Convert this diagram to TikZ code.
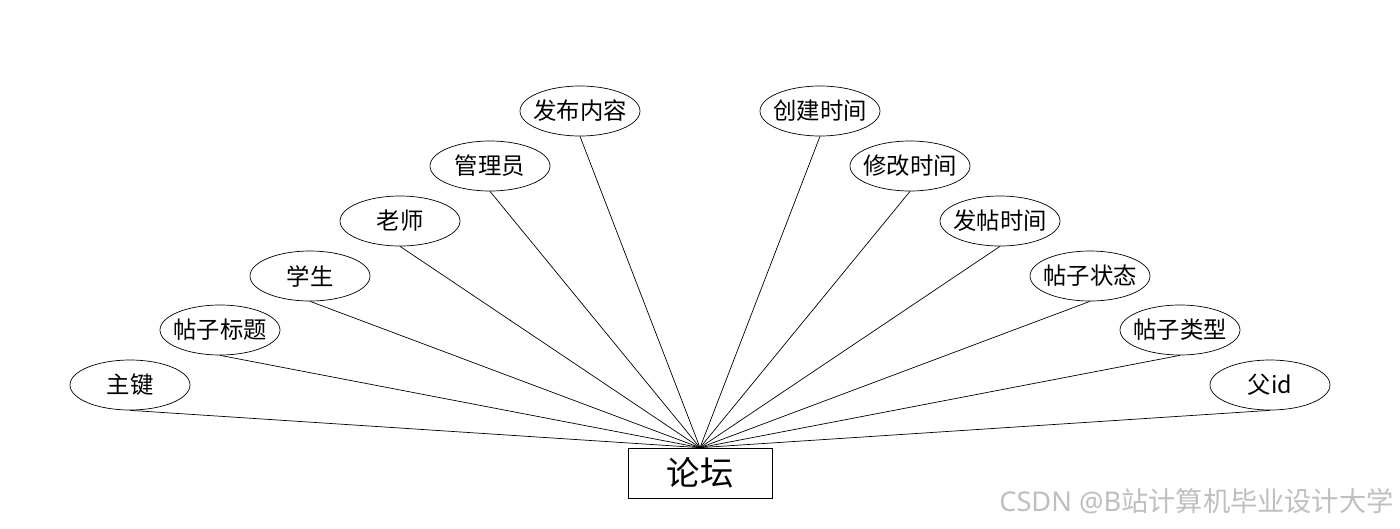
\documentclass[tikz,border=0pt]{standalone}
\usepackage{fontspec}
\newfontfamily\cjk{Noto Sans CJK SC}
\usetikzlibrary{shapes.geometric}

\begin{document}
\begin{tikzpicture}[
  x=0.02cm, y=-0.02cm,
  every node/.style={font=\cjk\fontsize{13.3}{15}\selectfont},
  attr/.style={ellipse, draw, thin, minimum width=2.4cm,
               minimum height=1cm, inner xsep=-3mm, inner ysep=0pt},
  entity/.style={rectangle, draw, thin, minimum width=2.88cm,
                 minimum height=1cm, inner sep=0pt,
                 font=\cjk\fontsize{19}{22}\selectfont},
  link/.style={thin}
]

\useasboundingbox (0,0) rectangle (1400,528);

\node[entity] at (700,473) (forum) {论坛};

% left side
\node[attr] at (130,385)  (key)     {主键};
\node[attr] at (220,330)  (title)   {帖子标题};
\node[attr] at (310,276)  (student) {学生};
\node[attr] at (400,221)  (teacher) {老师};
\node[attr] at (490,166)  (admin)   {管理员};
\node[attr] at (580,111)  (content) {发布内容};

% right side
\node[attr] at (820,111)  (created)  {创建时间};
\node[attr] at (910,166)  (modified) {修改时间};
\node[attr] at (1000,221) (posted)   {发帖时间};
\node[attr] at (1090,276) (status)   {帖子状态};
\node[attr] at (1180,330) (type)     {帖子类型};
\node[attr] at (1270,385) (parent)   {父id};

\draw[link] (key.south)      -- (forum.north);
\draw[link] (title.south)    -- (forum.north);
\draw[link] (student.south)  -- (forum.north);
\draw[link] (teacher.south)  -- (forum.north);
\draw[link] (admin.south)    -- (forum.north);
\draw[link] (content.south)  -- (forum.north);
\draw[link] (created.south)  -- (forum.north);
\draw[link] (modified.south) -- (forum.north);
\draw[link] (posted.south)   -- (forum.north);
\draw[link] (status.south)   -- (forum.north);
\draw[link] (type.south)     -- (forum.north);
\draw[link] (parent.south)   -- (forum.north);

\node[anchor=east, text=black!25, inner sep=0pt,
      font=\cjk\fontsize{15.5}{18}\selectfont] at (1394,501) (mark)
  {\fontspec{Noto Sans}CSDN @B\cjk 站计算机毕业设计大学};

\end{tikzpicture}
\end{document}
